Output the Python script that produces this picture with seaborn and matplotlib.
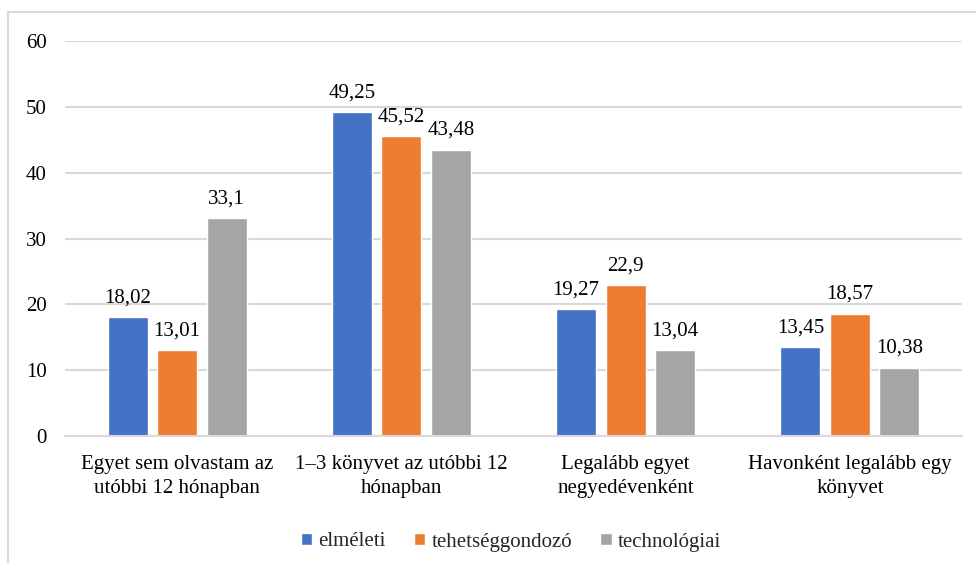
import matplotlib
matplotlib.use("Agg")
import matplotlib.pyplot as plt
import seaborn as sns
import pandas as pd
from matplotlib.patches import Rectangle

categories = ["Egyet sem olvastam az\nutóbbi 12 hónapban",
              "1–3 könyvet az utóbbi 12\nhónapban",
              "Legalább egyet\nnegyedévenként",
              "Havonként legalább egy\nkönyvet"]
series_names = ["elméleti", "tehetséggondozó", "technológiai"]
elmeleti = [18.02, 49.25, 19.27, 13.45]
tehetseg = [13.01, 45.52, 22.9, 18.57]
technologiai = [33.1, 43.48, 13.04, 10.38]
colors = ["#4472C4", "#ED7D31", "#A5A5A5"]
yticks = [0, 10, 20, 30, 40, 50, 60]

rows = []
for name, vals in zip(series_names, [elmeleti, tehetseg, technologiai]):
    for c, v in zip(categories, vals):
        rows.append({"cat": c, "series": name, "value": v})
df = pd.DataFrame(rows)

sns.set_theme(style="white")
plt.rcParams["font.family"] = ["Liberation Serif", "DejaVu Serif"]

fig = plt.figure(figsize=(9.76, 5.63), dpi=100)
ax = fig.add_axes([65/976, 1-436/563, (962-65)/976, (436-41)/563])

sns.barplot(data=df, x="cat", y="value", hue="series", order=categories,
            hue_order=series_names, palette=colors, width=0.662, gap=0.19,
            saturation=1, errorbar=None, ax=ax, legend=True)

for cont in ax.containers:
    ax.bar_label(cont, labels=[f"{b.get_height():g}".replace(".", ",") for b in cont],
                 padding=7, fontsize=15, color="#000000")

ax.set_ylim(0, 60)
ax.set_xlim(-0.5, 3.5)
ax.set_yticks(yticks)
ax.set_yticklabels([str(t) for t in yticks])
ax.yaxis.grid(True, color="#D9D9D9", linewidth=1.5)
ax.set_axisbelow(True)
for s in ["top", "right", "left"]:
    ax.spines[s].set_visible(False)
ax.spines["bottom"].set_color("#D9D9D9")
ax.spines["bottom"].set_linewidth(1.5)
ax.tick_params(axis="y", length=0, pad=13, labelsize=15, labelcolor="#000000")
ax.tick_params(axis="x", length=0, pad=14, labelsize=15, labelcolor="#000000")
ax.set_xlabel("")
ax.set_ylabel("")
for lbl in ax.get_xticklabels():
    lbl.set_linespacing(1.3)

handles, labels = ax.get_legend_handles_labels()
ax.legend_.remove()
fig.legend(handles, labels, loc="center", bbox_to_anchor=(511/976, 1-542/563),
           ncol=3, frameon=False, fontsize=15, handlelength=0.55, handleheight=0.55,
           handletextpad=0.3, columnspacing=1.35)

fig.patches.append(Rectangle((8/976, -0.2), 1.2, 1.2 - 12/563,
                             transform=fig.transFigure, fill=False,
                             edgecolor="#D9D9D9", linewidth=1.5))

fig.savefig("out.png", dpi=100)
